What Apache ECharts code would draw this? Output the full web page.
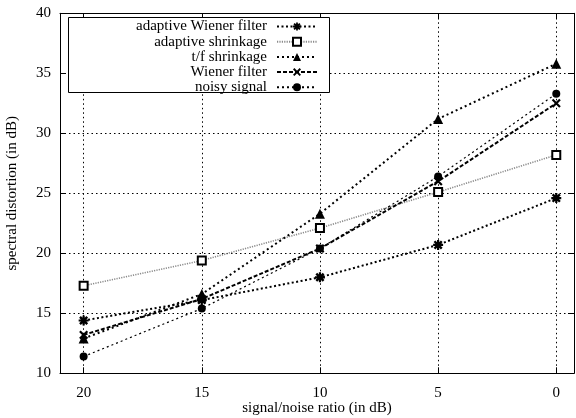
<!DOCTYPE html>
<html>
<head>
<meta charset="utf-8">
<script src="https://cdn.jsdelivr.net/npm/echarts@6/dist/echarts.min.js"></script>
<style>
  html, body { margin: 0; padding: 0; background: #fff; }
  #chart { width: 576px; height: 418px; }
</style>
</head>
<body>
<div id="chart"></div>
<script>
const snr = [20, 15, 10, 5, 0];
const xTicks = [0, 5, 10, 15, 20];
const adaptiveWiener = [14.4, 16.1, 18.0, 20.7, 24.6];
const adaptiveShrink = [17.3, 19.4, 22.1, 25.1, 28.2];
const tfShrink = [12.9, 16.6, 23.3, 31.2, 35.8];
const wiener = [13.2, 16.2, 20.4, 26.0, 32.5];
const noisy = [11.4, 15.4, 20.4, 26.4, 33.3];

const font = 'Liberation Serif';
const asterisk = 'path://M3.9,0H6.1V10H3.9ZM0,3.9H10V6.1H0ZM0.5,2.2L2.2,0.5L9.5,7.8L7.8,9.5ZM7.8,0.5L9.5,2.2L2.2,9.5L0.5,7.8Z';
const cross = 'path://M0.6,2.1L2.1,0.6L9.4,7.9L7.9,9.4ZM7.9,0.6L9.4,2.1L2.1,9.4L0.6,7.9Z';

function pairs(vals) {
    return snr.map((x, i) => [x, vals[i]]);
}

function line(name, vals, symbol, size, lineStyle, itemStyle) {
    return {
        name: name,
        type: 'line',
        data: pairs(vals),
        symbol: symbol,
        symbolSize: size,
        showSymbol: true,
        lineStyle: lineStyle,
        itemStyle: itemStyle || {color: '#000'},
        emphasis: {disabled: true},
        animation: false
    };
}

const chart = echarts.init(document.getElementById('chart'), null, {renderer: 'canvas'});
const xBase = {
    type: 'value',
    inverse: true,
    min: -0.75,
    max: 21,
    axisLine: {onZero: false, lineStyle: {color: '#000'}},
    axisTick: {inside: true, length: 6, customValues: xTicks, lineStyle: {color: '#000'}},
    splitLine: {show: false}
};
const yBase = {
    type: 'value',
    min: 10,
    max: 40,
    interval: 5,
    axisLine: {show: true, onZero: false, lineStyle: {color: '#000'}},
    axisTick: {show: true, inside: true, length: 6, lineStyle: {color: '#000'}},
    splitLine: {show: false}
};
const option = {
    backgroundColor: '#fff',
    textStyle: {fontFamily: font},
    grid: {left: 60, right: 2, top: 13.3, bottom: 44.7, show: false, containLabel: false, outerBoundsMode: 'none'},
    xAxis: [
        Object.assign({}, xBase, {
            position: 'bottom',
            name: 'signal/noise ratio (in dB)',
            nameLocation: 'middle',
            nameGap: 27,
            nameMoveOverlap: false,
            nameTextStyle: {fontFamily: font, fontSize: 15, color: '#000'},
            axisLabel: {customValues: xTicks, margin: 12, fontFamily: font, fontSize: 15, color: '#000'},
            splitLine: {show: true, lineStyle: {color: '#000', type: [1.5, 3], width: 1}}
        }),
        Object.assign({}, xBase, {position: 'top', axisLabel: {show: false}})
    ],
    yAxis: [
        Object.assign({}, yBase, {
            position: 'left',
            name: 'spectral distortion (in dB)',
            nameLocation: 'middle',
            nameGap: 40,
            nameMoveOverlap: false,
            nameTextStyle: {fontFamily: font, fontSize: 15, color: '#000'},
            axisLabel: {margin: 9, fontFamily: font, fontSize: 15, color: '#000'},
            splitLine: {show: true, lineStyle: {color: '#000', type: [1.5, 3], width: 1}}
        }),
        Object.assign({}, yBase, {position: 'right', axisLabel: {show: false}})
    ],
    legend: {
        orient: 'vertical',
        align: 'right',
        right: 258,
        top: 19,
        padding: 0,
        itemGap: 0.2,
        itemWidth: 40,
        itemHeight: 10,
        textStyle: {fontFamily: font, fontSize: 15, color: '#000', lineHeight: 15, padding: [0, 5, 0, 0]},
        data: ['adaptive Wiener filter', 'adaptive shrinkage', 't/f shrinkage', 'Wiener filter', 'noisy signal']
    },
    graphic: [{
        type: 'rect',
        z: 3,
        shape: {x: 68.5, y: 17.5, width: 261, height: 75},
        style: {fill: '#fff', stroke: '#000', lineWidth: 1}
    }],
    series: [
        line('adaptive Wiener filter', adaptiveWiener, asterisk, 10,
            {color: '#000', width: 2, type: [2, 2.5]}),
        line('adaptive shrinkage', adaptiveShrink, 'rect', 8,
            {color: '#8a8a8a', width: 1.6, type: [1.2, 1.2]},
            {color: '#fff', borderColor: '#000', borderWidth: 2}),
        line('t/f shrinkage', tfShrink, 'triangle', 10,
            {color: '#000', width: 2, type: [2, 3]}),
        line('Wiener filter', wiener, cross, 9,
            {color: '#000', width: 2, type: [4, 2]}),
        line('noisy signal', noisy, 'circle', 8,
            {color: '#000', width: 1.2, type: [2, 3]})
    ]
};
chart.setOption(option);
</script>
</body>
</html>
